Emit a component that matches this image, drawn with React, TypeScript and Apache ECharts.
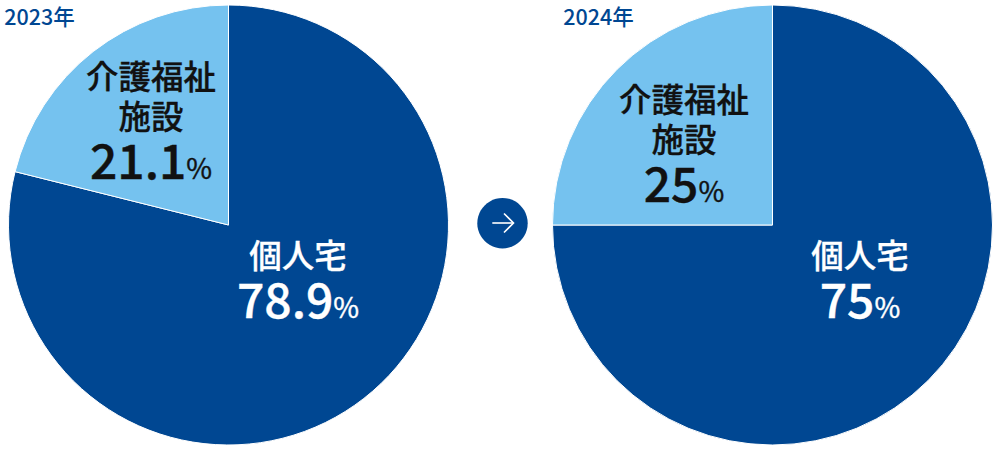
import React, { useEffect, useRef } from "react";
import * as echarts from "echarts";

const years = ["2023年", "2024年"];
const categories = ["個人宅", "介護福祉\n施設"];
const values2023 = [78.9, 21.1];
const values2024 = [75, 25];
const colors = ["#004792", "#75C2EF"];
const labelColors = ["#ffffff", "#111111"];
const FONT = '"Noto Sans CJK JP", "Noto Sans", sans-serif';

const labelAt2023 = [{ x: 298, y: 276.5 }, { x: 151, y: 117.5 }];
const labelAt2024 = [{ x: 860, y: 276.5 }, { x: 684, y: 140.5 }];

function makePie(values: number[], cx: number, at: { x: number; y: number }[]) {
  return {
    type: "pie",
    center: [cx, 225],
    radius: [0, 220],
    startAngle: 90,
    clockwise: true,
    silent: true,
    avoidLabelOverlap: false,
    itemStyle: { borderColor: "#ffffff", borderWidth: 1 },
    labelLine: { show: false },
    labelLayout: (p: any) => ({ x: at[p.dataIndex].x, y: at[p.dataIndex].y, align: "center", verticalAlign: "middle" }),
    data: values.map((v, i) => ({
      value: v,
      name: categories[i],
      itemStyle: { color: colors[i] },
      label: {
        show: true,
        position: "inside",
        color: labelColors[i],
        align: "center",
        formatter: () => {
          const names = categories[i].split("\n").map((n) => `{name|${n}}`).join("\n");
          return `${names}\n{val|${v}}{pct|%}`;
        },
        rich: {
          name: { fontFamily: FONT, fontSize: 32.5, fontWeight: 500, lineHeight: 40, color: labelColors[i], textBorderColor: labelColors[i], textBorderWidth: 0.3 },
          val: { fontFamily: FONT, fontSize: 48, fontWeight: 500, lineHeight: 47, color: labelColors[i], textBorderColor: labelColors[i], textBorderWidth: 0.4 },
          pct: { fontFamily: FONT, fontSize: 28, fontWeight: 400, lineHeight: 30, verticalAlign: "bottom", color: labelColors[i], textBorderColor: labelColors[i], textBorderWidth: 0.4 },
        },
      },
    })),
  };
}

export default function App() {
  const ref = useRef<HTMLDivElement>(null);
  useEffect(() => {
    const chart = echarts.init(ref.current!, null, { renderer: "svg", width: 1000, height: 450 });
    chart.setOption({
      animation: false,
      backgroundColor: "#ffffff",
      series: [makePie(values2023, 228.5, labelAt2023), makePie(values2024, 772.5, labelAt2024)],
      graphic: [
        { type: "text", x: 39.5, y: 15.5, style: { text: years[0], fontFamily: FONT, fontSize: 21.5, fontWeight: 500, fill: colors[0], align: "center", verticalAlign: "middle" } },
        { type: "text", x: 598.5, y: 15.5, style: { text: years[1], fontFamily: FONT, fontSize: 21.5, fontWeight: 500, fill: colors[0], align: "center", verticalAlign: "middle" } },
        { type: "circle", shape: { cx: 502.5, cy: 223.2, r: 25.2 }, style: { fill: colors[0] } },
        { type: "line", shape: { x1: 492.3, y1: 223, x2: 513, y2: 223 }, style: { stroke: "#ffffff", lineWidth: 1.6 } },
        { type: "polyline", shape: { points: [[504, 213.5], [513.5, 223], [504, 232.5]] }, style: { stroke: "#ffffff", lineWidth: 1.6, fill: "none" } },
      ],
    });
    return () => chart.dispose();
  }, []);
  return <div ref={ref} style={{ position: "absolute", left: 0, top: 0, width: 1000, height: 450 }} />;
}
